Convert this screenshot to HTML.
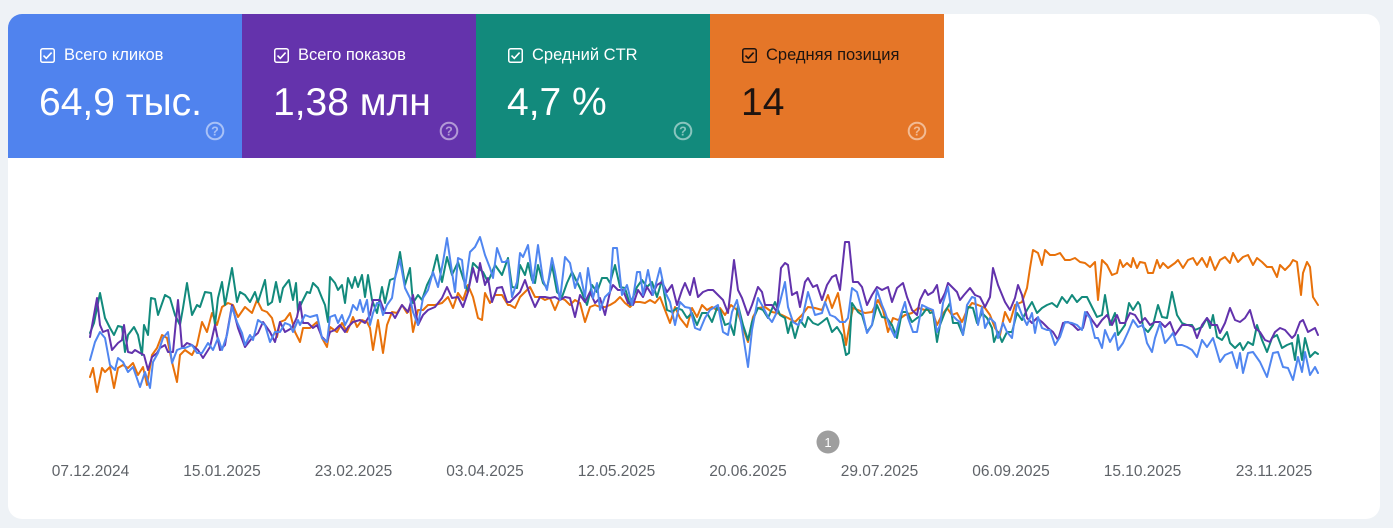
<!DOCTYPE html>
<html><head><meta charset="utf-8">
<style>
html,body{margin:0;padding:0;}
body{width:1393px;height:528px;background:#eef2f6;position:relative;overflow:hidden;font-family:"Liberation Sans","Noto Sans CJK SC",sans-serif;}
.card{position:absolute;left:8px;top:14px;width:1372px;height:505px;background:#fff;border-radius:14px;overflow:hidden;}
.tile{position:absolute;top:0;width:234px;height:144px;color:#fff;}
.cb{position:absolute;left:32px;top:34px;width:15px;height:15px;}
.lbl{position:absolute;left:56px;top:31px;font-size:16.5px;line-height:20px;white-space:nowrap;}
.val{position:absolute;left:31px;top:67px;font-size:39px;line-height:44px;white-space:nowrap;}
.help{position:absolute;left:197px;top:107px;width:20px;height:20px;}
.ax{position:absolute;top:463px;font-size:15.5px;color:#5f6368;width:100px;text-align:center;margin-left:-50px;line-height:18px;}
</style></head><body>
<div class="card">
  <div class="tile" style="left:0;background:#5083ee;">
    <svg class="cb" viewBox="0 0 15 15"><rect x="0.75" y="0.75" width="13.5" height="13.5" rx="2" fill="none" stroke="#fff" stroke-width="1.5"/><path d="M3.5 7.6 L6.3 10.3 L11.6 4.6" fill="none" stroke="#fff" stroke-width="1.6"/></svg>
    <div class="lbl">Всего кликов</div>
    <div class="val">64,9 тыс.</div>
    <svg class="help" viewBox="0 0 20 20"><circle cx="10" cy="10" r="8.3" fill="none" stroke="rgba(255,255,255,0.5)" stroke-width="2"/><text x="10" y="14.5" font-size="12.5" font-weight="bold" text-anchor="middle" fill="rgba(255,255,255,0.5)" font-family="Liberation Sans">?</text></svg>
  </div>
  <div class="tile" style="left:234px;background:#6433ac;">
    <svg class="cb" viewBox="0 0 15 15"><rect x="0.75" y="0.75" width="13.5" height="13.5" rx="2" fill="none" stroke="#fff" stroke-width="1.5"/><path d="M3.5 7.6 L6.3 10.3 L11.6 4.6" fill="none" stroke="#fff" stroke-width="1.6"/></svg>
    <div class="lbl">Всего показов</div>
    <div class="val">1,38 млн</div>
    <svg class="help" viewBox="0 0 20 20"><circle cx="10" cy="10" r="8.3" fill="none" stroke="rgba(255,255,255,0.5)" stroke-width="2"/><text x="10" y="14.5" font-size="12.5" font-weight="bold" text-anchor="middle" fill="rgba(255,255,255,0.5)" font-family="Liberation Sans">?</text></svg>
  </div>
  <div class="tile" style="left:468px;background:#128a7c;">
    <svg class="cb" viewBox="0 0 15 15"><rect x="0.75" y="0.75" width="13.5" height="13.5" rx="2" fill="none" stroke="#fff" stroke-width="1.5"/><path d="M3.5 7.6 L6.3 10.3 L11.6 4.6" fill="none" stroke="#fff" stroke-width="1.6"/></svg>
    <div class="lbl">Средний CTR</div>
    <div class="val">4,7 %</div>
    <svg class="help" viewBox="0 0 20 20"><circle cx="10" cy="10" r="8.3" fill="none" stroke="rgba(255,255,255,0.5)" stroke-width="2"/><text x="10" y="14.5" font-size="12.5" font-weight="bold" text-anchor="middle" fill="rgba(255,255,255,0.5)" font-family="Liberation Sans">?</text></svg>
  </div>
  <div class="tile" style="left:702px;background:#e57628;color:#1e1410;">
    <svg class="cb" viewBox="0 0 15 15"><rect x="0.75" y="0.75" width="13.5" height="13.5" rx="2" fill="none" stroke="#1e1410" stroke-width="1.5"/><path d="M3.5 7.6 L6.3 10.3 L11.6 4.6" fill="none" stroke="#1e1410" stroke-width="1.6"/></svg>
    <div class="lbl">Средняя позиция</div>
    <div class="val">14</div>
    <svg class="help" viewBox="0 0 20 20"><circle cx="10" cy="10" r="8.3" fill="none" stroke="rgba(255,255,255,0.5)" stroke-width="2"/><text x="10" y="14.5" font-size="12.5" font-weight="bold" text-anchor="middle" fill="rgba(255,255,255,0.5)" font-family="Liberation Sans">?</text></svg>
  </div>
</div>

<svg style="position:absolute;left:0;top:0;" width="1393" height="528" viewBox="0 0 1393 528">
<g fill="none" stroke-width="2" stroke-linejoin="round" stroke-linecap="round">
<polyline stroke="#e8710a" points="90,377 93,368 97,392 102,368 105,372 110,367 114,388 118,368 123,365 128,368 133,363 138,375 143,367 147,385 152,355 157,348 162,335 167,338 172,362 177,382 180,355 185,350 192,355 197,345 202,322 207,332 212,313 217,325 222,307 228,303 233,305 238,317 245,307 252,313 257,300 262,310 267,312 272,318 277,337 280,322 285,320 290,313 295,332 300,342 303,328 310,328 317,322 322,338 327,347 330,327 337,332 342,323 347,332 350,325 353,317 357,327 362,320 367,322 370,328 373,350 378,320 383,353 387,325 392,312 397,313 402,305 407,313 410,307 413,332 418,310 423,310 428,305 435,305 442,303 448,297 453,308 458,293 463,300 468,285 473,297 478,318 482,320 485,293 490,303 495,295 502,295 508,305 510,305 515,308 520,297 525,292 530,287 535,297 540,297 545,300 550,298 555,310 560,298 565,300 570,305 575,300 580,303 585,322 590,307 595,305 600,307 605,307 610,305 615,302 620,297 625,303 630,307 635,302 640,302 645,303 650,300 655,303 660,297 665,310 670,323 675,307 680,318 687,327 692,308 697,317 702,305 707,310 712,307 717,310 720,308 725,315 731,305 737,310 742,325 748,342 753,317 758,308 765,307 772,312 777,313 782,315 788,318 795,322 802,315 808,307 815,308 822,310 828,295 832,308 838,293 842,317 846,345 850,322 853,308 858,310 865,313 872,312 878,300 883,310 888,332 893,318 898,320 905,315 912,313 918,308 925,310 932,310 937,325 942,315 947,308 952,315 957,313 962,322 967,310 972,303 978,305 985,308 990,315 995,328 1000,335 1005,312 1010,322 1015,305 1022,302 1027,288 1030,268 1033,250 1038,253 1042,265 1045,250 1050,255 1055,255 1060,253 1065,260 1070,260 1075,258 1080,262 1085,263 1090,267 1095,262 1098,300 1102,260 1107,265 1112,275 1117,273 1120,260 1123,267 1127,263 1131,267 1133,258 1137,268 1140,262 1145,263 1148,273 1153,273 1157,260 1160,268 1163,263 1168,268 1175,263 1178,260 1183,268 1188,260 1193,258 1197,265 1202,258 1207,267 1210,257 1215,270 1220,260 1225,257 1230,263 1233,253 1238,262 1243,257 1248,255 1253,265 1257,258 1262,262 1267,267 1272,267 1277,277 1280,265 1285,270 1290,265 1293,260 1297,262 1301,295 1303,273 1307,262 1310,267 1313,297 1318,305"/>
<polyline stroke="#128a7c" points="90,333 94,323 100,293 105,318 110,328 114,335 118,326 122,327 125,352 128,335 134,327 138,335 142,355 144,325 148,335 151,298 155,299 158,315 165,295 170,298 175,315 180,325 183,308 187,283 192,315 197,305 200,307 205,292 211,293 215,325 218,298 222,282 225,305 232,268 237,302 240,292 245,295 250,302 255,292 258,302 265,280 268,305 272,302 276,282 280,302 283,288 289,280 293,300 296,283 298,312 302,302 307,292 310,293 313,283 318,288 322,298 325,305 328,322 330,277 335,283 338,290 342,285 345,303 348,278 352,288 355,277 358,287 362,275 365,297 368,275 372,300 377,313 382,287 385,303 390,280 395,278 400,252 405,285 410,268 413,303 418,295 422,300 427,285 432,275 437,255 442,282 447,257 452,275 458,262 463,278 468,292 473,263 478,268 483,272 488,282 495,265 502,275 508,258 512,287 517,288 520,265 525,275 528,263 532,280 535,283 538,265 543,283 547,288 552,265 557,292 562,297 567,283 572,272 575,278 580,288 587,305 592,285 597,292 602,278 607,278 610,283 615,265 620,287 625,288 630,305 637,287 642,280 647,287 652,282 657,297 662,280 667,310 672,312 677,308 682,310 687,318 692,313 697,325 702,313 707,313 712,322 717,308 720,310 725,325 730,323 734,335 738,305 743,325 748,340 752,322 758,308 763,310 768,318 775,302 780,315 785,318 788,333 791,322 795,338 800,320 805,327 808,317 813,323 818,325 822,322 827,318 832,332 837,327 842,335 846,355 849,353 852,303 858,312 862,315 867,332 872,325 877,305 882,317 887,318 892,325 897,338 902,312 907,312 912,322 917,318 922,315 927,308 930,313 933,312 937,342 940,325 945,312 950,303 953,323 958,323 963,335 968,307 973,308 977,323 982,313 987,318 992,328 994,342 998,332 1002,342 1007,332 1012,332 1017,313 1022,320 1027,310 1032,302 1037,313 1042,308 1047,305 1052,303 1057,307 1062,297 1067,303 1072,295 1077,302 1082,297 1087,297 1092,307 1097,317 1102,315 1105,295 1110,325 1115,313 1118,335 1125,325 1129,303 1133,310 1138,302 1140,305 1143,327 1148,332 1153,325 1158,305 1162,317 1167,318 1172,292 1177,315 1182,323 1187,325 1192,325 1195,330 1202,327 1207,318 1210,328 1213,315 1217,337 1222,340 1227,332 1230,343 1235,348 1240,343 1243,350 1248,342 1253,345 1257,325 1262,340 1267,352 1272,338 1277,335 1282,348 1287,345 1292,343 1295,360 1298,335 1302,360 1305,338 1310,357 1315,352 1318,354"/>
<polyline stroke="#6232ac" points="90,337 97,298 100,325 103,332 108,330 112,350 118,343 122,340 124,325 128,352 132,353 135,350 140,353 144,355 148,370 152,357 157,353 160,348 165,345 168,352 173,352 178,300 182,348 187,343 192,345 198,350 203,358 210,347 215,325 220,350 225,345 232,305 238,328 245,347 252,338 258,333 263,322 270,332 275,342 280,322 285,332 292,328 297,317 300,302 303,323 308,323 313,328 317,325 322,337 327,342 330,332 335,330 340,325 345,332 348,327 353,322 360,320 365,323 370,315 373,300 380,300 385,313 392,313 395,318 402,305 408,312 413,295 418,325 423,315 428,310 435,307 442,298 447,287 452,298 458,297 463,307 468,292 473,268 477,282 480,263 485,285 488,278 492,302 497,288 502,287 507,302 510,302 515,297 520,292 525,280 530,295 535,307 540,297 545,297 550,298 555,297 560,300 565,297 570,298 575,317 580,295 585,302 590,292 595,303 600,298 605,315 610,292 613,285 618,290 623,290 628,303 633,305 638,290 643,297 647,287 652,295 657,285 662,282 667,292 672,285 677,305 682,290 685,283 690,295 694,278 698,297 703,292 708,290 713,290 716,293 720,297 723,300 728,313 731,287 734,260 738,290 742,298 748,315 752,305 758,287 762,292 765,305 772,305 777,312 781,268 785,263 788,265 792,295 797,292 800,307 805,282 808,278 813,287 817,285 822,300 827,285 832,277 836,275 840,290 845,242 849,242 853,282 858,282 862,287 867,305 872,295 877,287 882,290 888,287 892,302 897,288 903,283 907,297 912,310 917,315 920,300 925,290 928,295 933,292 937,285 940,303 945,293 948,283 952,287 957,292 960,300 964,295 970,288 975,295 980,297 985,307 990,297 993,268 998,285 1005,302 1010,310 1015,298 1018,285 1022,295 1027,318 1032,323 1037,318 1042,322 1048,328 1053,332 1058,340 1063,323 1068,322 1073,325 1078,330 1083,328 1087,312 1092,320 1097,327 1102,320 1107,315 1112,325 1117,315 1120,323 1125,323 1130,313 1135,315 1140,323 1145,318 1150,325 1155,322 1160,322 1165,327 1170,322 1175,335 1182,325 1188,325 1193,327 1197,338 1202,325 1207,318 1212,325 1217,325 1220,333 1225,323 1230,308 1235,320 1240,322 1245,318 1250,310 1255,328 1260,332 1265,340 1270,342 1275,332 1280,328 1285,330 1292,338 1295,335 1300,322 1303,320 1308,332 1315,328 1318,335"/>
<polyline stroke="#5086f0" points="90,360 95,342 100,332 105,338 110,365 115,370 118,358 123,362 128,372 133,367 140,387 145,372 150,388 153,362 158,353 163,338 168,332 172,363 177,350 182,348 185,348 192,345 197,353 202,353 208,343 213,350 218,338 222,350 227,335 232,307 237,322 242,333 245,345 250,335 253,340 258,320 265,325 270,342 275,332 280,332 285,323 290,325 293,332 298,320 300,325 305,315 310,317 317,315 322,338 327,342 330,317 335,315 338,323 342,315 345,325 350,315 353,305 357,310 360,300 363,312 367,300 370,325 373,313 377,303 380,303 383,315 387,305 392,298 395,278 400,260 405,288 410,298 413,312 418,325 423,298 428,290 433,272 438,287 443,262 447,238 452,272 455,292 458,258 462,260 465,288 470,252 475,247 480,237 485,255 490,268 493,278 497,248 502,262 505,262 508,260 512,297 517,282 520,253 523,257 528,245 533,283 538,245 543,280 547,290 552,258 555,272 560,300 565,257 570,263 575,288 580,273 585,297 588,268 593,298 597,283 600,310 605,297 610,292 613,248 617,248 622,295 627,285 632,305 637,272 640,272 643,295 648,270 653,295 660,268 665,292 670,302 675,325 680,302 685,307 690,308 695,328 700,330 705,318 710,310 715,307 718,305 723,332 728,335 732,312 737,300 742,328 748,367 752,330 758,298 763,307 768,317 772,322 777,312 780,302 785,282 788,307 793,322 798,325 802,320 808,292 812,305 815,315 822,313 825,302 830,315 835,317 840,322 845,322 848,318 852,288 857,292 862,310 867,333 872,325 877,290 882,305 885,312 890,327 895,337 900,317 905,302 908,318 913,332 917,332 922,305 928,308 933,310 937,332 940,325 943,303 948,287 952,315 957,320 960,322 963,335 967,305 972,297 975,298 978,325 982,307 985,328 990,318 995,323 998,338 1003,323 1007,332 1012,338 1017,302 1022,315 1027,325 1032,313 1035,333 1038,317 1042,328 1047,330 1050,330 1055,345 1060,337 1065,322 1072,323 1077,325 1082,330 1085,312 1090,318 1095,338 1098,338 1102,348 1105,330 1110,342 1115,333 1118,350 1123,343 1128,332 1133,320 1138,327 1143,325 1147,343 1152,352 1155,338 1160,323 1165,343 1170,337 1173,333 1177,345 1182,345 1187,347 1192,350 1197,357 1202,340 1207,347 1213,338 1220,362 1225,355 1232,352 1237,368 1240,353 1243,373 1248,353 1253,352 1260,362 1267,377 1273,353 1278,352 1283,367 1288,368 1293,380 1298,357 1302,372 1305,352 1310,375 1315,367 1318,373"/>
</g>
<circle cx="828" cy="442" r="11.5" fill="#9e9e9e"/>
<text x="828" y="447" font-size="13" text-anchor="middle" fill="#fff" font-family="Liberation Sans">1</text>
</svg>

<div class="ax" style="left:90.5px;">07.12.2024</div>
<div class="ax" style="left:222px;">15.01.2025</div>
<div class="ax" style="left:353.5px;">23.02.2025</div>
<div class="ax" style="left:485px;">03.04.2025</div>
<div class="ax" style="left:616.5px;">12.05.2025</div>
<div class="ax" style="left:748px;">20.06.2025</div>
<div class="ax" style="left:879.5px;">29.07.2025</div>
<div class="ax" style="left:1011px;">06.09.2025</div>
<div class="ax" style="left:1142.5px;">15.10.2025</div>
<div class="ax" style="left:1274px;">23.11.2025</div>
</body></html>
